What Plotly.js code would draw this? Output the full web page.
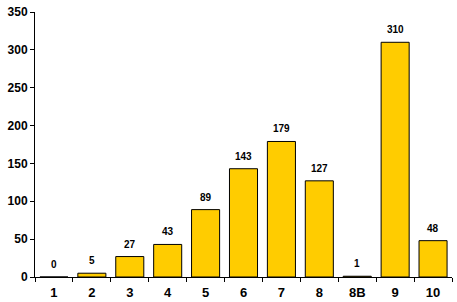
<!DOCTYPE html>
<html><head><meta charset="utf-8">
<script src="https://cdn.plot.ly/plotly-3.0.1.min.js"></script>
<style>html,body{margin:0;padding:0;background:#fff}#c{width:457px;height:302px}</style>
</head><body><div id="c"></div>
<script>
const categories = ["1","2","3","4","5","6","7","8","8B","9","10"];
const values = [0,5,27,43,89,143,179,127,1,310,48];
const yTicks = [0,50,100,150,200,250,300,350];

const fontFam = "Liberation Sans, Arial, sans-serif";
const annotations = categories.map((c,i)=>({
  x:i, y:values[i], text:String(values[i]), showarrow:false,
  yanchor:"bottom", yshift:5, font:{family:fontFam,size:10,color:"#000",weight:"bold"}
}));

Plotly.newPlot("c",[{
  type:"bar", x:categories, y:values,
  marker:{color:"#FFCC00", line:{color:"#000", width:1}},
  width:0.74, hoverinfo:"none"
}],{
  width:457, height:302,
  margin:{l:35,r:5,t:12,b:25},
  paper_bgcolor:"#fff", plot_bgcolor:"#fff",
  showlegend:false,
  bargap:0.26,
  xaxis:{type:"category", showline:true, linecolor:"#000", linewidth:1,
    ticks:"outside", tickson:"boundaries", ticklen:4, tickcolor:"#000",
    ticklabelstandoff:3,
    showgrid:false, zeroline:false,
    tickfont:{family:fontFam,size:13,color:"#000",weight:"bold"}},
  yaxis:{range:[0,350], tickvals:yTicks, showline:true, linecolor:"#000", linewidth:1,
    ticks:"outside", ticklen:4, tickcolor:"#000", showgrid:false, zeroline:false,
    tickfont:{family:fontFam,size:12,color:"#000",weight:"bold"}},
  annotations:annotations
},{staticPlot:true});
</script></body></html>
